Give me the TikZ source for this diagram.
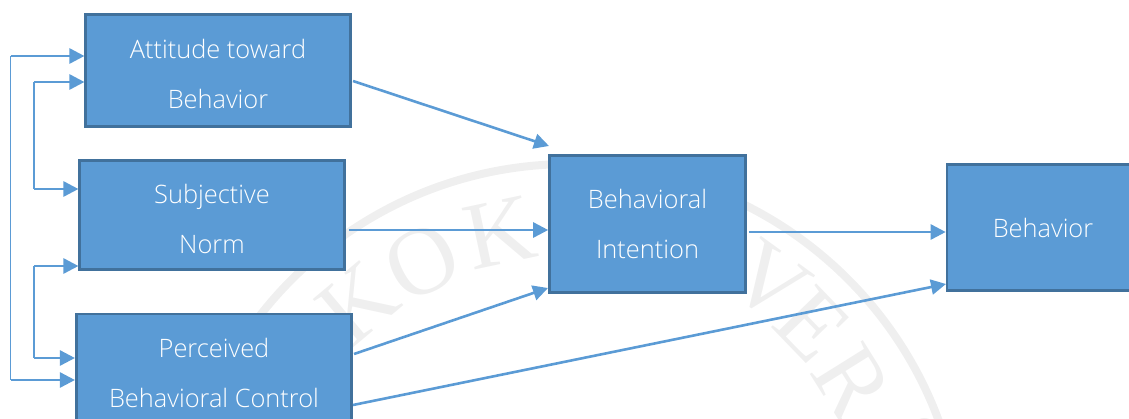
\documentclass[tikz,border=0pt]{standalone}
\usepackage{fontspec}
\setmainfont{Open Sans}[UprightFont=* Light]
\newfontfamily\sealfont{Liberation Serif}
\usetikzlibrary{arrows.meta}
\definecolor{boxfill}{HTML}{5B9BD5}
\definecolor{boxline}{HTML}{41719C}
\definecolor{seal}{HTML}{EFEFEF}
\newcommand{\dropline}{\rule{0pt}{27pt}}
\tikzset{
  box/.style={draw=boxline,line width=2.6pt,fill=boxfill,text=white,align=center,inner sep=0pt,
    font=\fontsize{25.4}{50}\selectfont},
  link/.style={draw=boxfill,line width=2.6pt,-{Triangle[length=15pt,width=15pt]}},
  rail/.style={draw=boxfill,line width=1.7pt},
  sealletter/.style={text=seal,font=\sealfont\fontsize{96}{96}\selectfont,inner sep=0pt}
}
\begin{document}
\begin{tikzpicture}[x=1pt,y=-1pt]
\useasboundingbox (0,0) rectangle (1129,418);
\clip (0,0) rectangle (1129,418);
% watermark
\draw[seal,line width=8pt] (570,557) circle[radius=393pt];
\node[sealletter,rotate=40] (s1) at (358,303) {K};
\node[sealletter,rotate=27] (s2) at (422,262) {O};
\node[sealletter,rotate=12] (s3) at (500,233) {K};
\node[sealletter,rotate=-36] (s4) at (770,282) {V};
\node[sealletter,rotate=-46] (s5) at (812,325) {E};
\node[sealletter,rotate=-58] (s6) at (852,382) {R};
\node[sealletter,rotate=-66] (s7) at (912,445) {S};
% boxes
\node[box,minimum width=264.5pt,minimum height=111.5pt] (att) at (218,70.5) {\dropline Attitude toward\\Behavior};
\node[box,minimum width=264.5pt,minimum height=109pt] (sub) at (212,215) {\dropline Subjective\\Norm};
\node[box,minimum width=275.5pt,minimum height=118pt] (pbc) at (214,373) {Perceived\\Behavioral Control};
\node[box,minimum width=196pt,minimum height=137pt] (bi) at (647.5,224) {Behavioral\\Intention};
\node[box,minimum width=192pt,minimum height=126pt] (beh) at (1043,227.5) {Behavior};
% left rails
\coordinate (o1) at (10.5,56);
\coordinate (o2) at (10.5,380);
\coordinate (i1) at (34,82);
\coordinate (i2) at (34,189);
\coordinate (i3) at (34,266);
\coordinate (i4) at (34,358);
\draw[rail] (o1) -- (o2);
\draw[rail] (i1) -- (i2);
\draw[rail] (i3) -- (i4);
\draw[link] (o1) -- (o1 -| att.west);
\draw[link] (i1) -- (i1 -| att.west);
\draw[link] (i2) -- (i2 -| sub.west);
\draw[link] (i3) -- (i3 -| sub.west);
\draw[link] (i4) -- (i4 -| pbc.west);
\draw[link] (o2) -- (o2 -| pbc.west);
% main arrows
\coordinate (a1) at (353,81);
\coordinate (a2) at (549,146);
\coordinate (s1o) at (349,230);
\coordinate (p1) at (354,354);
\coordinate (p1e) at (548,288);
\coordinate (p2) at (353,405);
\coordinate (p2e) at (946,284);
\coordinate (b1) at (749,232);
\draw[link] (a1) -- (a2);
\draw[link] (s1o) -- (s1o -| bi.west);
\draw[link] (p1) -- (p1e);
\draw[link] (p2) -- (p2e);
\draw[link] (b1) -- (b1 -| beh.west);
\end{tikzpicture}
\end{document}
